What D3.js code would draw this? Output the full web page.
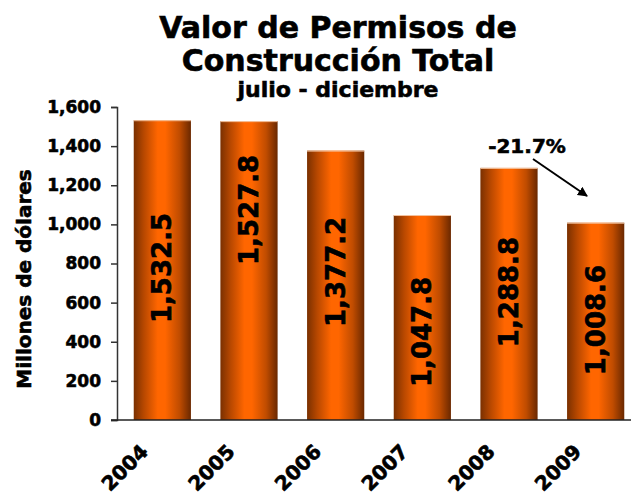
<!DOCTYPE html>
<html>
<head>
<meta charset="utf-8">
<script src="https://cdn.jsdelivr.net/npm/d3@7/dist/d3.min.js"></script>
<style>
  html, body { margin: 0; padding: 0; background: #fff; }
  svg { display: block; font-family: "DejaVu Sans", Verdana, sans-serif; font-weight: bold; }
  text.heavy { stroke: #000; stroke-width: 0.6px; paint-order: stroke; }
</style>
</head>
<body>
<svg id="chart" width="631" height="496"></svg>
<script>
// Building permit value, July–December, millions of dollars
const years = ["2004", "2005", "2006", "2007", "2008", "2009"];
const values = [1532.5, 1527.8, 1377.2, 1047.8, 1288.8, 1008.6];
const valueLabels = ["1,532.5", "1,527.8", "1,377.2", "1,047.8", "1,288.8", "1,008.6"];
const yTicks = [0, 200, 400, 600, 800, 1000, 1200, 1400, 1600];
const changeLabel = "-21.7%";

// Where each rotated value label is centred, in axis units
const labelAnchor = [777, 1074, 757, 450, 654, 511];

const svg = d3.select("#chart");
const x0 = 117, x1 = 631, yBase = 420, yTop = 107;

const x = d3.scaleBand().domain(years).range([119, 639])
  .paddingInner(0.34).paddingOuter(0.17);
const y = d3.scaleLinear().domain([0, 1600]).range([yBase, yTop]);

// Cylinder-like shading across each bar
const defs = svg.append("defs");
const grad = defs.append("linearGradient").attr("id", "barShade")
  .attr("x1", "0%").attr("x2", "100%").attr("y1", "0%").attr("y2", "0%");
[["0%", "#7a3000"], ["18%", "#b84800"], ["42%", "#ff6600"], ["55%", "#ff6600"],
 ["80%", "#c04c00"], ["100%", "#6a2800"]].forEach(([o, c]) =>
  grad.append("stop").attr("offset", o).attr("stop-color", c));

const marker = defs.append("marker").attr("id", "arrowHead")
  .attr("viewBox", "0 0 10 10").attr("refX", 9).attr("refY", 5)
  .attr("markerWidth", 5).attr("markerHeight", 5).attr("orient", "auto");
marker.append("path").attr("d", "M0,0 L10,5 L0,10 Z").attr("fill", "#000");

// Titles
svg.append("text").attr("class", "heavy").attr("x", 338).attr("y", 38).attr("text-anchor", "middle")
  .attr("font-size", 30).text("Valor de Permisos de");
svg.append("text").attr("class", "heavy").attr("x", 338).attr("y", 71).attr("text-anchor", "middle")
  .attr("font-size", 30).text("Construcción Total");
svg.append("text").attr("class", "heavy").attr("x", 338).attr("y", 97).attr("text-anchor", "middle")
  .attr("font-size", 22).text("julio - diciembre");

// Bars
const bars = svg.append("g");
bars.selectAll("rect.bar").data(values).join("rect")
  .attr("class", "bar")
  .attr("x", (d, i) => x(years[i]))
  .attr("y", d => y(d))
  .attr("width", x.bandwidth())
  .attr("height", d => yBase - y(d))
  .attr("fill", "url(#barShade)");
// light rim along the top of each bar
bars.selectAll("line.rim").data(values).join("line")
  .attr("class", "rim")
  .attr("x1", (d, i) => x(years[i]))
  .attr("x2", (d, i) => x(years[i]) + x.bandwidth())
  .attr("y1", d => y(d) + 0.5).attr("y2", d => y(d) + 0.5)
  .attr("stroke", "#f4c4a0").attr("stroke-width", 1);

// Value labels, rotated inside the bars
bars.selectAll("text.val").data(values).join("text")
  .attr("class", "val heavy")
  .attr("transform", (d, i) =>
    `translate(${x(years[i]) + x.bandwidth() / 2 + 9},${y(labelAnchor[i])}) rotate(-90)`)
  .attr("text-anchor", "middle")
  .attr("font-size", 26)
  .attr("fill", "#000")
  .text((d, i) => valueLabels[i]);

// Y axis
const yAxis = d3.axisLeft(y).tickValues(yTicks).tickSize(6).tickPadding(10)
  .tickFormat(d3.format(","));
const gy = svg.append("g").attr("transform", `translate(${x0},0)`).call(yAxis);
gy.select(".domain").attr("stroke", "#333").attr("stroke-width", 1.5);
gy.selectAll(".tick line").attr("stroke", "#333").attr("stroke-width", 1.5);
gy.selectAll(".tick text").attr("class", "heavy").attr("font-size", 17)
  .attr("font-family", "DejaVu Sans").attr("font-weight", "bold").attr("fill", "#000");

// X axis baseline
svg.append("line").attr("x1", x0 - 6).attr("x2", x1).attr("y1", yBase).attr("y2", yBase)
  .attr("stroke", "#222").attr("stroke-width", 1.5);

// Year labels, rotated 45 degrees
svg.append("g").selectAll("text").data(years).join("text")
  .attr("class", "heavy")
  .attr("transform", d => `translate(${x(d) + x.bandwidth() / 2 - 13},${453}) rotate(-45)`)
  .attr("text-anchor", "end")
  .attr("font-size", 20)
  .text(d => d);

// Y axis title
svg.append("text")
  .attr("class", "heavy")
  .attr("transform", `translate(31,279) rotate(-90)`)
  .attr("text-anchor", "middle")
  .attr("font-size", 20)
  .text("Millones de dólares");

// Change annotation
svg.append("text").attr("class", "heavy").attr("x", 527).attr("y", 153).attr("text-anchor", "middle")
  .attr("font-size", 20).text(changeLabel);
svg.append("line").attr("x1", 533).attr("y1", 159).attr("x2", 587).attr("y2", 196)
  .attr("stroke", "#000").attr("stroke-width", 2).attr("marker-end", "url(#arrowHead)");
</script>
</body>
</html>
